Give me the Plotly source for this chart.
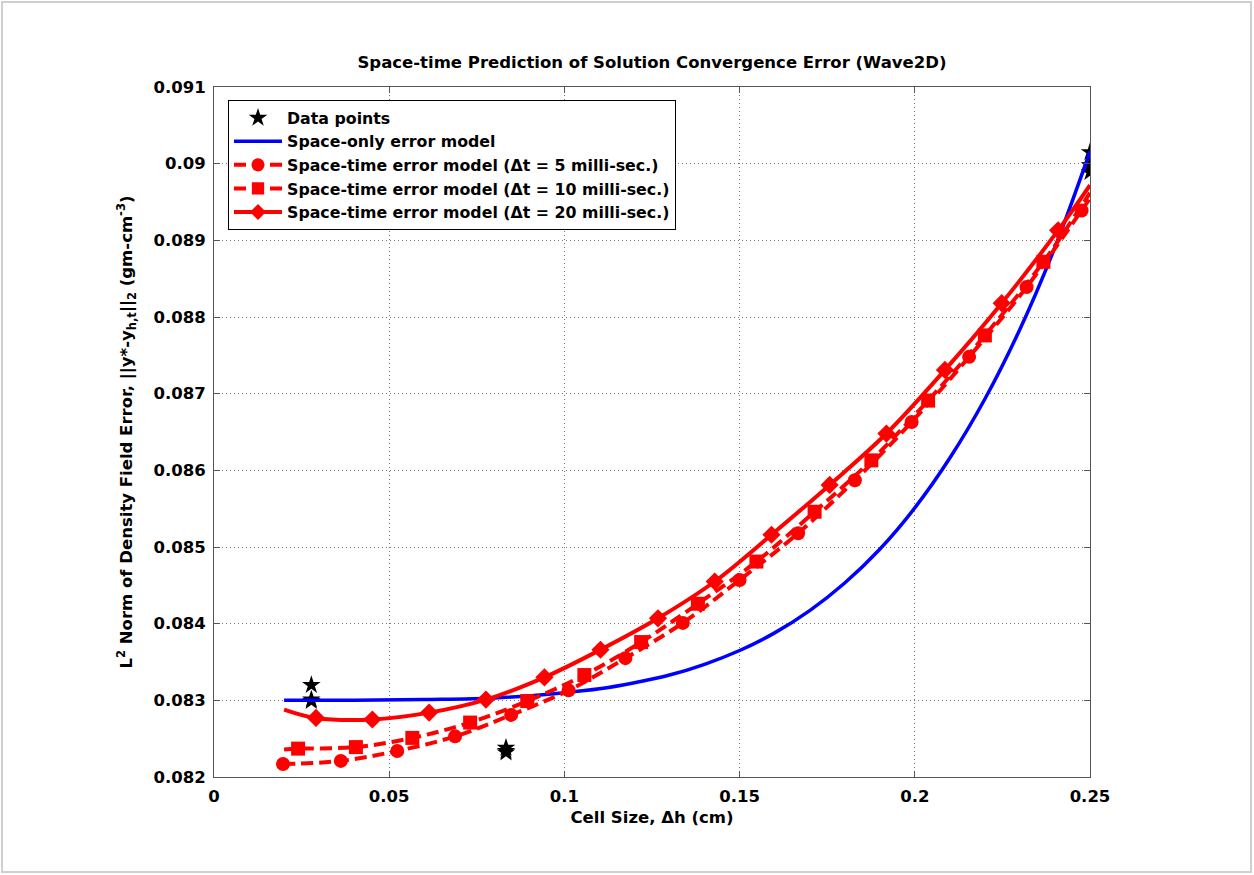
import plotly.graph_objects as go

# ---- data ----
# data points (h = 1/36, 1/12, 1/4), three time steps each
pts_h = [0.02778, 0.02778, 0.02778, 0.08333, 0.08333, 0.08333, 0.25, 0.25, 0.25]
pts_y = [0.08320, 0.08301, 0.08299, 0.08238, 0.08234, 0.08232, 0.09015, 0.08998, 0.08989]

# space-only error model
space_h = [0.02, 0.04, 0.06, 0.08, 0.10, 0.11, 0.12, 0.13, 0.14, 0.15, 0.16, 0.17,
           0.18, 0.19, 0.20, 0.21, 0.22, 0.23, 0.24, 0.25]
space_y = [0.08300, 0.08300, 0.08301, 0.08303, 0.08310, 0.08315, 0.08323, 0.08333,
           0.08347, 0.08365, 0.08388, 0.08417, 0.08453, 0.08497, 0.08551, 0.08616,
           0.08693, 0.08784, 0.08891, 0.09016]

# space-time model, dt = 5 ms (circles)
st5_h = [0.0197, 0.0362, 0.0523, 0.0688, 0.0848, 0.1012, 0.1174, 0.1338, 0.1500,
         0.1667, 0.1829, 0.1991, 0.2155, 0.2319, 0.2476, 0.2500]
st5_y = [0.08217, 0.08221, 0.08234, 0.08253, 0.08281, 0.08313, 0.08355, 0.08401,
         0.08457, 0.08518, 0.08587, 0.08663, 0.08748, 0.08839, 0.08939, 0.08955]
st5_m = [1, 1, 1, 1, 1, 1, 1, 1, 1, 1, 1, 1, 1, 1, 1, 0]

# space-time model, dt = 10 ms (squares)
st10_h = [0.0200, 0.0240, 0.0405, 0.0566, 0.0731, 0.0894, 0.1057, 0.1219, 0.1381,
          0.1548, 0.1714, 0.1876, 0.2038, 0.2200, 0.2367, 0.2500]
st10_y = [0.08236, 0.08237, 0.08239, 0.08251, 0.08271, 0.08299, 0.08333, 0.08376,
          0.08426, 0.08481, 0.08546, 0.08613, 0.08691, 0.08776, 0.08872, 0.08962]
st10_m = [0, 1, 1, 1, 1, 1, 1, 1, 1, 1, 1, 1, 1, 1, 1, 0]

# space-time model, dt = 20 ms (diamonds)
st20_h = [0.0200, 0.0291, 0.0452, 0.0614, 0.0776, 0.0943, 0.1103, 0.1267, 0.1429,
          0.1591, 0.1757, 0.1919, 0.2086, 0.2248, 0.2409, 0.2500]
st20_y = [0.08288, 0.08277, 0.08275, 0.08284, 0.08301, 0.08330, 0.08366, 0.08407,
          0.08455, 0.08516, 0.08581, 0.08648, 0.08731, 0.08818, 0.08913, 0.08972]
st20_m = [0, 1, 1, 1, 1, 1, 1, 1, 1, 1, 1, 1, 1, 1, 1, 0]

x_ticks = [0, 0.05, 0.1, 0.15, 0.2, 0.25]
x_ticklabels = ["0", "0.05", "0.1", "0.15", "0.2", "0.25"]
y_ticks = [0.082, 0.083, 0.084, 0.085, 0.086, 0.087, 0.088, 0.089, 0.090, 0.091]
y_ticklabels = ["0.082", "0.083", "0.084", "0.085", "0.086", "0.087", "0.088",
                "0.089", "0.09", "0.091"]

FONT = "DejaVu Sans, Arial, sans-serif"
FS = 16.5
LEG_FS = 15.8
RED = "#ff0000"
MS = 14

fig = go.Figure()

fig.add_trace(go.Scatter(
    x=pts_h, y=pts_y, mode="markers", name="<b>Data points</b>",
    marker=dict(symbol="star", size=14, color="black", opacity=1),
))
fig.add_trace(go.Scatter(
    x=space_h, y=space_y, mode="lines", name="<b>Space-only error model</b>",
    line=dict(color="#0000ff", width=3.5, shape="spline"),
))


def st_trace(h, y, m, symbol, dash, label):
    return go.Scatter(
        x=h, y=y, mode="lines+markers", name=label,
        line=dict(color=RED, width=4, shape="spline", dash=dash),
        marker=dict(symbol=symbol, size=[MS * v for v in m], color=RED,
                    opacity=1, line=dict(width=0)),
    )


fig.add_trace(st_trace(st5_h, st5_y, st5_m, "circle", "12px,6px",
                       "<b>Space-time error model (\u0394t = 5 milli-sec.)</b>"))
fig.add_trace(st_trace(st10_h, st10_y, st10_m, "square", "12px,6px",
                       "<b>Space-time error model (\u0394t = 10 milli-sec.)</b>"))
fig.add_trace(st_trace(st20_h, st20_y, st20_m, "diamond", "solid",
                       "<b>Space-time error model (\u0394t = 20 milli-sec.)</b>"))

axis_common = dict(
    showline=True, linecolor="#555555", linewidth=1, mirror="ticks",
    ticks="inside", ticklen=6, tickcolor="#555555",
    showgrid=True, gridcolor="#777777", gridwidth=1, griddash="1px,3px",
    zeroline=False, ticklabelstandoff=4,
    tickfont=dict(family=FONT, size=FS, color="black", weight="bold"),
)

fig.update_layout(
    width=1254, height=875,
    paper_bgcolor="white", plot_bgcolor="white",
    margin=dict(l=214, r=164, t=87, b=98),
    font=dict(family=FONT, color="black"),
    title=dict(
        text="<b>Space-time Prediction of Solution Convergence Error (Wave2D)</b>",
        x=(214 + 1090) / 2 / 1254, xanchor="center", y=1 - 62 / 875, yanchor="middle",
        font=dict(family=FONT, size=FS, color="black"),
    ),
    xaxis=dict(
        range=[0, 0.25], tickvals=x_ticks, ticktext=x_ticklabels,
        title=dict(text="<b>Cell Size, \u0394h (cm)</b>",
                   font=dict(family=FONT, size=FS, color="black"), standoff=6),
        **axis_common,
    ),
    yaxis=dict(
        range=[0.082, 0.091], tickvals=y_ticks, ticktext=y_ticklabels,
        title=dict(text="<b>L<sup>2</sup> Norm of Density Field Error, ||y*-y<sub>h,t</sub>||<sub>2</sub> (gm-cm<sup>-3</sup>)</b>",
                   font=dict(family=FONT, size=FS, color="black"), standoff=16),
        **axis_common,
    ),
    legend=dict(
        x=(228 - 214) / 876, y=(777 - 100) / 690, xanchor="left", yanchor="top",
        bgcolor="white", bordercolor="black", borderwidth=1,
        font=dict(family=FONT, size=LEG_FS, color="black"),
        itemwidth=48, tracegroupgap=0,
    ),
    showlegend=True,
    shapes=[dict(
        type="rect", xref="paper", yref="paper",
        x0=(2 - 214) / 876, x1=(1251 - 214) / 876,
        y0=(777 - 872) / 690, y1=(777 - 2) / 690,
        line=dict(color="#cfcfcf", width=2), fillcolor="rgba(0,0,0,0)", layer="below",
    )],
)

fig.write_html("out.html")
